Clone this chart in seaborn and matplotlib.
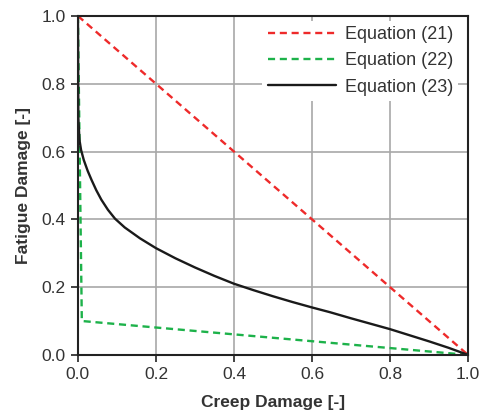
import matplotlib
matplotlib.use("Agg")
import matplotlib.pyplot as plt
import seaborn as sns
import pandas as pd

sns.set_theme(style="white")
plt.rcParams['font.family'] = ['Liberation Sans', 'DejaVu Sans']

# Equation (21): linear
eq21_x = [0.0, 1.0]
eq21_y = [1.0, 0.0]
# Equation (22): bilinear
eq22_x = [0.0, 0.01, 1.0]
eq22_y = [1.0, 0.1, 0.0]
# Equation (23): curve
eq23_x = [0.0, 0.001, 0.004, 0.008, 0.015, 0.025, 0.035, 0.047, 0.06, 0.077, 0.095,
          0.12, 0.159, 0.2, 0.25, 0.3, 0.35, 0.4, 0.45, 0.5, 0.55, 0.6, 0.646,
          0.7, 0.75, 0.8, 0.85, 0.9, 0.95, 1.0]
eq23_y = [1.0, 0.70, 0.634, 0.605, 0.575, 0.543, 0.516, 0.486, 0.458, 0.428, 0.402,
          0.376, 0.344, 0.315, 0.285, 0.258, 0.233, 0.21, 0.191, 0.173, 0.156, 0.14,
          0.126, 0.108, 0.092, 0.076, 0.058, 0.04, 0.021, 0.0]

labels = ["Equation (21)", "Equation (22)", "Equation (23)"]
ticks = [0.0, 0.2, 0.4, 0.6, 0.8, 1.0]

df = pd.concat([
    pd.DataFrame({"x": eq21_x, "y": eq21_y, "eq": labels[0]}),
    pd.DataFrame({"x": eq22_x, "y": eq22_y, "eq": labels[1]}),
    pd.DataFrame({"x": eq23_x, "y": eq23_y, "eq": labels[2]}),
], ignore_index=True)

fig = plt.figure(figsize=(4.81, 4.20), dpi=100)
ax = fig.add_axes([0.162, 0.155, 0.811, 0.807])

palette = {labels[0]: "#ee2a2a", labels[1]: "#1db24a", labels[2]: "#1a1a1a"}
dashes = {labels[0]: (3, 2), labels[1]: (3, 2), labels[2]: ""}
sns.lineplot(data=df, x="x", y="y", hue="eq", style="eq", palette=palette,
             dashes=dashes, sort=False, estimator=None, linewidth=1.7, ax=ax)

ax.set_xlim(0, 1)
ax.set_ylim(0, 1)
ax.set_xticks(ticks)
ax.set_yticks(ticks)
ax.set_xticklabels([f"{v:.1f}" for v in ticks])
ax.set_yticklabels([f"{v:.1f}" for v in ticks])
ax.grid(True, color="#a8a8a8", linewidth=1.2)
ax.set_axisbelow(True)
for s in ax.spines.values():
    s.set_color("#222222")
    s.set_linewidth(1.5)
ax.tick_params(axis="both", which="major", bottom=True, left=True, direction="out",
               length=5, width=1.2, color="#222222",
               labelsize=12.5, labelcolor="#333333", pad=4)
ax.set_xlabel("Creep Damage [-]", fontsize=12.5, fontweight="bold", color="#333333", labelpad=9)
ax.set_ylabel("Fatigue Damage [-]", fontsize=12.5, fontweight="bold", color="#333333", labelpad=7)

leg = ax.legend(loc="upper right", bbox_to_anchor=(0.975, 0.985), fontsize=13,
                handlelength=3.8, frameon=True,
                facecolor="white", edgecolor="none", framealpha=1.0,
                borderaxespad=0.0, labelspacing=0.5, handletextpad=0.45,
                borderpad=0.3)
leg.get_frame().set_linewidth(0)
for t in leg.get_texts():
    t.set_color("#333333")

fig.savefig("out.png", dpi=100)
